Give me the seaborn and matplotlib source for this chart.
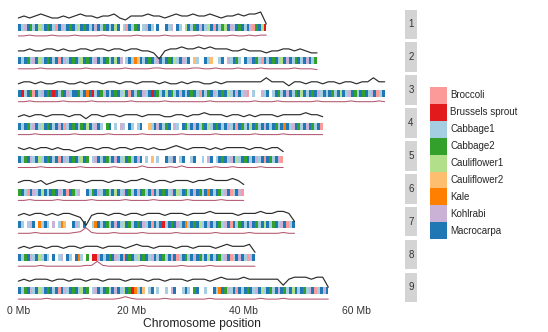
import matplotlib
matplotlib.use("Agg")
import numpy as np
import pandas as pd
import seaborn as sns
import matplotlib.pyplot as plt
from matplotlib.patches import Patch

sns.set_theme(style="white")
plt.rcParams['font.family'] = ['Liberation Sans', 'DejaVu Sans']

# ---------------- data ----------------
categories = ["Broccoli", "Brussels sprout", "Cabbage1", "Cabbage2", "Cauliflower1",
              "Cauliflower2", "Kale", "Kohlrabi", "Macrocarpa"]
codes = ["B", "R", "C", "G", "L", "F", "K", "H", "M"]
cat_colors = ["#FB9A99", "#E31A1C", "#A6CEE3", "#33A02C", "#B2DF8A",
              "#FDBF6F", "#FF7F00", "#CAB2D6", "#1F78B4"]
chromosomes = ["1", "2", "3", "4", "5", "6", "7", "8", "9"]
x_ticks = [0, 20, 40, 60]
x_tick_labels = ["0 Mb", "20 Mb", "40 Mb", "60 Mb"]

# closest cultivar per 0.5 Mb bin ('.' = no call)
chr1_bins = "MCHMGCMLCM GMCBMHCMGM CLMGMCMHMC GMCMLM.CBM CGM.CHMC.M ..MCH.MC.L MCGMHMCLMB MCGLMHCMGM CMHBGMLR"
chr2_bins = "MCMGCHMLCM GMCMBMHCMG MCLMGMCHMC MGCMLMH.CM CKFMCMGMCH MCMGMLCMHC M.FC..MCF. .CM.HCMGC. MCHMGCBMCM GMCLMHMCGM CMHMCG"
chr3_bins = "MRCMGBMCHM GMRMCGMHCM MGCMKMRCMG HMCMGMCLMB MCGMHCMRMG CMLMGCMHMC MGMCBMCGMH CMGMLCMHMC HB.C..HCM. CMGCMHMCGM LMCMGMHCMC MGCMLMCHMG CMGMCHMBCM"
chr4_bins = "MCMGCHMCLM GMCMHMBCMG MCGMLMCHMC .GM.C.HC.M C.CM..FCMH MCGM.HC.MG CMHMCGMLCM GMCMHCMBMG CMLMGCMHMC MGCMKMCHMG CMHMGCMB"
chr5_bins = "MCGMHCMLCM GMCMBMHCMG MCLMG.CHMC MGCMHMCLMG CMHM.C.F.C ..MCHM.CM. .CM..C.HM. CMGMCHMLCM GMCMHCMBMG CMHB"
chr6_bins = "GMCBMHCMLM CMGMHCMBMG CH..MCGMHC MGCMLMCHMG CMHMGCMBMC MGMCHMLCMG CMHMGCMKMC MGCHMBCMHB"
chr7_bins = "MC.CHM.KCM C.H.CKF..M HC.M..CKMC MGCMHMCLMG CMGMHCMBMC MRCMGMHCMK CMGMLCMHMC MGCHMBMCGM CMHMGCMLMC GMCHMBCM"
chr8_bins = "MCGMHCMLCM C.M.CH.MC. MKC.G.RRHM CMGMHCMBMG MCLMGMCHMC MGCMHMBCMG CMHMGCMLMC MGCHMBCMHM CBHM"
chr9_bins = "MCGMHCMLCM GMCMBMHCMG MCLMG.CHMC MGCMHMCLMG RKCMF.CM.C ..C.HM..CM C.GM..C..M CKMGHCMBMC MGMCHMLCMG CMHMGCMLMC MGCHMBCMHM"

# upper (black) track, 1 Mb steps
chr1_top = [5,6,5,6,7,6,5,5,6,5, 6,7,6,6,5,6,6,7,5,4, 6,6,6,7,6,6,5,6,7,6, 6,7,6,6,7,6,5,6,6,7, 6,7,7,8,2]
chr2_top = [5,5,6,5,5,6,6,5,6,5, 5,6,6,5,6,6,5,6,6,5, 6,6,5,5,4,1,5,6,6,7, 6,6,7,6,7,6,6,6,5,5, 6,5,5,5,4,5,5,6,6,5, 6,5,4,4]
chr3_top = [5,6,6,5,6,5,5,6,6,5, 5,6,5,6,6,5,6,6,5,6, 6,5,6,6,6,5,6,5,5,6, 5,6,6,5,5,6,5,6,6,6, 6,6,6,6,8,6,6,6,4,6, 6,5,6,6,5,6,6,5,6,6, 5,6,6,8,6,6]
chr4_top = [5,6,5,6,6,5,6,6,6,5, 6,6,4,6,6,5,6,6,5,6, 6,6,5,6,6,6,5,5,6,6, 5,6,6,7,6,6,6,5,6,6, 5,6,5,6,6,6,5,6,6,6, 6,7,6,6,5]
chr5_top = [6,5,6,5,6,6,5,6,5,5, 4,5,6,6,5,6,6,5,6,6, 5,6,6,5,6,5,5,6,7,6, 5,6,6,6,5,6,5,6,6,6, 6,5,6,6,5,6,6,4]
chr6_top = [5,6,6,5,6,4,5,6,6,5, 6,6,5,6,6,6,5,6,6,5, 6,6,7,6,5,6,6,5,6,6, 6,5,6,6,7,6,6,6,7,6, 4]
chr7_top = [5,6,5,6,6,5,6,5,6,6, 5,4,0,5,6,6,5,6,6,5, 6,6,5,6,6,6,5,6,6,6, 5,6,6,6,7,6,6,6,6,5, 6,6,6,7,6,6,7,7,6,2]
chr8_top = [5,6,5,6,6,5,6,6,5,6, 6,5,6,6,6,5,6,6,6,5, 6,7,6,6,5,6,6,6,5,6, 6,5,6,6,6,5,6,7,6,6, 6,7,3]
chr9_top = [5,6,5,6,6,6,5,6,6,5, 6,6,5,6,6,5,6,6,6,5, 6,6,6,5,6,6,5,6,6,6, 5,6,6,6,5,6,7,6,6,6, 7,6,6,6,6,6,6,3,6,7, 7,7,6,7,7,2]

# lower (red) track, 1 Mb steps
chr1_low = [2,2,3,2,2,2,3,2,2,2, 3,2,2,2,2,3,2,2,2,2, 2,3,2,2,2,2,3,2,2,2, 2,2,3,2,2,2,2,2,3,2, 2,3,2,3,3]
chr2_low = [2,2,2,2,3,2,2,2,2,2, 2,2,3,2,2,2,2,2,2,3, 2,2,2,2,3,3,2,2,2,2, 2,3,3,2,2,3,2,2,2,3, 2,2,2,3,2,2,2,2,2,3, 2,2,2,1]
chr3_low = [2,2,3,2,2,2,2,2,3,2, 2,2,2,3,2,2,2,2,2,2, 3,2,2,2,2,2,3,2,2,2, 2,2,2,2,3,2,2,2,2,2, 2,2,3,2,2,2,3,2,2,2, 2,2,2,3,2,2,2,2,2,3, 2,2,2,2,3,2]
chr4_low = [2,2,2,3,2,2,2,2,2,2, 3,2,2,2,2,2,3,2,2,2, 2,2,3,2,2,2,2,2,2,3, 2,2,2,2,2,3,2,2,2,2, 2,2,3,2,2,2,2,3,2,2, 2,2,2,2,2]
chr5_low = [2,2,2,2,3,2,2,2,2,2, 2,3,2,2,2,2,2,3,2,2, 2,2,4,2,2,2,2,3,2,4, 2,2,2,2,2,3,2,2,3,2, 2,2,2,3,2,2,2,2]
chr6_low = [2,2,3,2,2,2,2,3,2,2, 2,2,2,3,2,2,2,2,2,3, 2,2,2,2,3,2,2,2,2,2, 3,2,2,2,2,2,3,2,2,2, 2]
chr7_low = [2,2,2,3,2,2,2,2,2,2, 3,4,9,3,2,2,2,3,2,2, 2,2,3,2,2,2,2,2,3,2, 2,2,2,2,2,3,2,2,2,2, 2,3,2,2,2,2,2,3,2,2]
chr8_low = [2,2,2,2,3,2,2,2,2,2, 2,2,3,3,8,3,2,2,2,2, 2,2,3,2,2,2,2,2,2,3, 2,2,2,2,3,2,2,2,2,2, 2,2,2]
chr9_low = [2,2,2,2,2,3,2,2,2,2, 2,2,3,2,2,2,2,2,3,5, 3,2,2,2,2,2,3,2,2,2, 2,2,2,2,3,2,2,2,2,2, 2,2,2,3,2,2,2,3,2,2, 2,2,2,2,2,2]

all_bins = [chr1_bins, chr2_bins, chr3_bins, chr4_bins, chr5_bins,
            chr6_bins, chr7_bins, chr8_bins, chr9_bins]
all_top = [chr1_top, chr2_top, chr3_top, chr4_top, chr5_top,
           chr6_top, chr7_top, chr8_top, chr9_top]
all_low = [chr1_low, chr2_low, chr3_low, chr4_low, chr5_low,
           chr6_low, chr7_low, chr8_low, chr9_low]

code_color = dict(zip(codes, cat_colors))
BIN = 0.5

# ---------------- layout ----------------
W, H = 548, 332
fig = plt.figure(figsize=(W / 100, H / 100), dpi=100)

panel_left, panel_right = 0, 403
row_top0, row_step, row_h = 9.5, 32.9, 29.5
strip_x0, strip_w = 405, 12
xlim = (-3.25, 68.25)

for i, ch in enumerate(chromosomes):
    top = row_top0 + row_step * i
    ax = fig.add_axes([panel_left / W, 1 - (top + row_h) / H,
                       (panel_right - panel_left) / W, row_h / H])
    # stripe of bins
    s = all_bins[i].replace(" ", "")
    df_bins = pd.DataFrame({"start": np.arange(len(s)) * BIN, "code": list(s)})
    df_bins = df_bins[df_bins["code"] != "."]
    ax.bar(df_bins["start"] + BIN / 2, 7.0, bottom=8.0, width=BIN,
           color=[code_color[c] for c in df_bins["code"]], linewidth=0)
    # black track
    top_vals = np.array(all_top[i], dtype=float)
    df_top = pd.DataFrame({"pos": np.arange(len(top_vals)), "y": 11 + top_vals * 2.0})
    sns.lineplot(data=df_top, x="pos", y="y", ax=ax, color="#2b2b2b",
                 linewidth=0.85, estimator=None)
    # red track
    low_vals = np.array(all_low[i], dtype=float)
    df_low = pd.DataFrame({"pos": np.arange(len(low_vals)), "y": 1.5 + low_vals * 0.8})
    sns.lineplot(data=df_low, x="pos", y="y", ax=ax, color="#b0566e",
                 linewidth=0.75, estimator=None)

    ax.set_xlim(*xlim)
    ax.set_ylim(0, row_h)
    ax.set_xlabel("")
    ax.set_ylabel("")
    ax.set_yticks([])
    for sp in ax.spines.values():
        sp.set_visible(False)
    if i == len(chromosomes) - 1:
        ax.set_xticks(x_ticks)
        ax.set_xticklabels(x_tick_labels, fontsize=7.5, color="#333333")
        ax.tick_params(axis="x", length=0, pad=3)
        ax.set_xlabel("Chromosome position", fontsize=8.7, color="#222222", labelpad=1.5)
    else:
        ax.set_xticks([])

    # facet strip
    sax = fig.add_axes([strip_x0 / W, 1 - (top + row_h) / H, strip_w / W, row_h / H])
    sax.set_facecolor("#d4d4d4")
    sax.set_xticks([])
    sax.set_yticks([])
    for sp in sax.spines.values():
        sp.set_visible(False)
    sax.text(0.5, 0.5, ch, ha="center", va="center", fontsize=7, color="#333333",
             transform=sax.transAxes)

handles = [Patch(facecolor=c, edgecolor="none", label=n) for n, c in zip(categories, cat_colors)]
fig.legend(handles=handles, loc="upper left", bbox_to_anchor=(430 / W, 1 - 87 / H),
           frameon=False, fontsize=7.0, handlelength=1.75, handleheight=2.3,
           labelspacing=0.0, handletextpad=0.35, borderpad=0, borderaxespad=0)

fig.savefig("out.png", dpi=100)
